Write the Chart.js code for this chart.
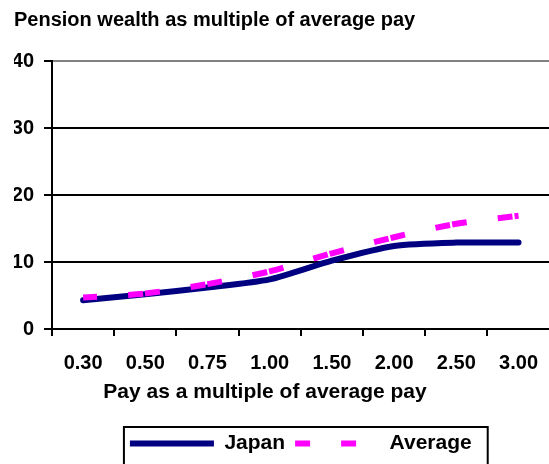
<!DOCTYPE html>
<html>
<head>
<meta charset="utf-8">
<script src="https://cdn.jsdelivr.net/npm/chart.js@4/dist/chart.umd.min.js"></script>
<style>
  html, body { margin: 0; padding: 0; background: #fff; overflow: hidden; }
  #clip { width: 549px; height: 464px; overflow: hidden; }
  #wrap { width: 553px; height: 464px; }
</style>
</head>
<body>
<div id="clip"><div id="wrap"><canvas id="pension"></canvas></div></div>
<script>
/* global Chart */

var pay_levels = ["0.30", "0.50", "0.75", "1.00", "1.50", "2.00", "2.50", "3.00"];
var japan_wealth = [4.3, 5.2, 6.2, 7.4, 10.2, 12.4, 12.9, 12.9];
var average_wealth = [4.7, 5.3, 6.7, 8.6, 11.3, 13.7, 15.7, 16.9];
var y_ticks = [0, 10, 20, 30, 40];

var FONT = "'Liberation Sans', Arial, sans-serif";

// x axis title is drawn by hand so it can sit left of centre
var axisTitle = {
  id: "axisTitle",
  afterDraw(chart) {
    var ctx = chart.ctx;
    var xs = chart.scales.x;
    ctx.save();
    ctx.font = "bold 21px " + FONT;
    ctx.fillStyle = "#000";
    ctx.textAlign = "center";
    ctx.textBaseline = "middle";
    ctx.fillText("Pay as a multiple of average pay", xs.left + 213, xs.top + 63);
    ctx.restore();
  },
};

// black frame round the legend
var legendFrame = {
  id: "legendFrame",
  afterDraw(chart) {
    var boxes = chart.legend.legendHitBoxes;
    if (!boxes || !boxes.length) return;
    var first = boxes[0];
    var last = boxes[boxes.length - 1];
    var ctx = chart.ctx;
    ctx.save();
    ctx.strokeStyle = "#000";
    ctx.lineWidth = 2;
    ctx.strokeRect(first.left - 6, first.top - 6, last.left + last.width + 16 - (first.left - 6), 60);
    ctx.restore();
  },
};

var ctx = document.getElementById("pension").getContext("2d");
var pension_graph = new Chart(ctx, {
  type: "line",
  data: {
    labels: pay_levels,
    datasets: [
      {
        label: "Japan",
        data: japan_wealth,
        order: 1,
        borderColor: "#000080",
        borderWidth: 6,
        borderCapStyle: "round",
        borderJoinStyle: "round",
        tension: 0.25,
        pointRadius: 0,
        fill: false,
      },
      {
        label: "Average",
        data: average_wealth,
        order: 0,
        borderColor: "#FF00FF",
        borderWidth: 6,
        borderDash: [15, 2, 15, 31],
        borderDashOffset: 18,
        tension: 0.25,
        pointRadius: 0,
        fill: false,
      },
    ],
  },
  options: {
    responsive: true,
    maintainAspectRatio: false,
    animation: false,
    layout: { padding: { left: 14, right: 0, top: 0, bottom: 0 } },
    plugins: {
      title: {
        display: true,
        text: "Pension wealth as multiple of average pay",
        align: "start",
        color: "#000",
        font: { family: FONT, size: 20, weight: "bold" },
        padding: { top: 8, bottom: 29 },
      },
      legend: {
        position: "bottom",
        fullSize: false,
        labels: {
          color: "#000",
          font: { family: FONT, size: 21, weight: "bold" },
          usePointStyle: true,
          pointStyleWidth: 84,
          padding: 10,
          generateLabels(chart) {
            var items = Chart.defaults.plugins.legend.labels.generateLabels(chart);
            items.sort(function (a, b) { return a.datasetIndex - b.datasetIndex; });
            items.forEach(function (item) {
              item.pointStyle = "line";
              if (item.datasetIndex === 1) {
                item.lineDash = [15, 31];
                item.lineDashOffset = 0;
              }
            });
            return items;
          },
        },
      },
      tooltip: { enabled: false },
    },
    scales: {
      x: {
        offset: true,
        afterFit(scale) {
          scale.height = 94;
        },
        grid: {
          display: true,
          offset: true,
          drawOnChartArea: false,
          drawTicks: true,
          tickLength: 7,
          color: "#000",
          lineWidth: 2,
        },
        border: { display: true, color: "#000", width: 2 },
        ticks: {
          color: "#000",
          padding: 15,
          maxRotation: 0,
          font: { family: FONT, size: 20, weight: "bold" },
        },
      },
      y: {
        min: 0,
        max: 40,
        afterFit(scale) {
          scale.width = 38;
        },
        afterBuildTicks(scale) {
          scale.ticks = y_ticks.map(function (v) { return { value: v }; });
        },
        grid: {
          color(c) {
            return c.tick && c.tick.value === 40 ? "#808080" : "#000";
          },
          tickColor: "#000",
          lineWidth: 2,
          tickLength: 8,
        },
        border: { display: true, color: "#000", width: 2 },
        ticks: {
          color: "#000",
          padding: 10,
          font: { family: FONT, size: 20, weight: "bold" },
        },
      },
    },
  },
  plugins: [axisTitle, legendFrame],
});
</script>
</body>
</html>
